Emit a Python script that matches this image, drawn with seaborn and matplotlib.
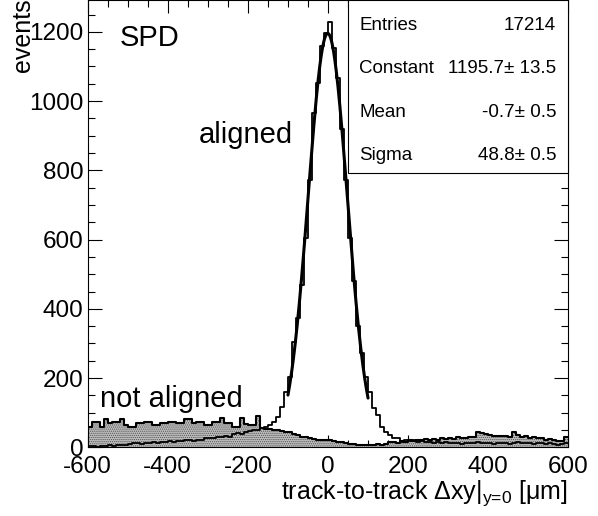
import numpy as np
import pandas as pd
import matplotlib
matplotlib.use("Agg")
import matplotlib.pyplot as plt
import seaborn as sns
from matplotlib.patches import Rectangle
from matplotlib.ticker import MultipleLocator

# 10 um bins from -600 to 600
edges = list(range(-600, 601, 10))
centers = [e + 5 for e in edges[:-1]]

# events per bin, aligned detector (open histogram)
aligned = [
    3, 4, 2, 5, 4, 6, 5, 7, 6, 8, 9, 11, 12, 10, 13,
    12, 14, 13, 16, 15, 17, 16, 18, 17, 20, 21, 19, 22, 21, 26,
    28, 27, 31, 29, 32, 30, 38, 41, 39, 44, 47, 50, 49, 55, 60,
    63, 72, 88, 117, 160, 203, 305, 373, 469, 604, 773, 966, 1053, 1159, 1197,
    1229, 1154, 1067, 918, 773, 604, 480, 350, 272, 204, 160, 114, 93, 60, 45,
    35, 28, 27, 16, 22, 18, 20, 15, 17, 14, 16, 13, 15, 12, 14,
    11, 13, 12, 10, 13, 11, 12, 14, 11, 13, 12, 10, 12, 11, 13,
    10, 12, 14, 11, 13, 12, 10, 11, 13, 9, 11, 10, 8, 9, 12,
]

# events per bin, not aligned detector (filled histogram)
not_aligned = [
    60, 74, 74, 60, 81, 69, 74, 74, 81, 64, 58, 58, 69, 69, 74,
    74, 64, 64, 69, 69, 74, 74, 70, 69, 81, 81, 69, 74, 74, 64,
    64, 74, 74, 85, 70, 69, 60, 60, 85, 66, 64, 64, 90, 55, 52,
    52, 50, 50, 46, 45, 44, 37, 35, 30, 30, 26, 24, 22, 20, 21,
    20, 18, 16, 15, 12, 10, 9, 8, 8, 7, 8, 7, 9, 8, 10,
    14, 16, 12, 18, 16, 20, 18, 22, 20, 24, 21, 25, 22, 26, 24,
    27, 25, 30, 26, 28, 31, 29, 45, 40, 38, 36, 34, 33, 32, 34,
    30, 44, 36, 30, 32, 28, 29, 26, 27, 22, 24, 20, 18, 17, 30,
]

# gaussian fit result shown in the stats box
entries = 17214
fit_const, fit_const_err = 1195.7, 13.5
fit_mean, fit_mean_err = -0.7, 0.5
fit_sigma, fit_sigma_err = 48.8, 0.5
fit_range = (-100, 100)

df = pd.DataFrame({'dxy': centers, 'aligned': aligned, 'not_aligned': not_aligned})

sns.set_theme(style="ticks")
plt.rcParams['font.family'] = ['Liberation Sans', 'DejaVu Sans']
plt.rcParams['mathtext.fontset'] = 'custom'
plt.rcParams['mathtext.rm'] = 'Liberation Sans'
plt.rcParams['mathtext.it'] = 'Liberation Sans'
plt.rcParams['mathtext.sf'] = 'Liberation Sans'
plt.rcParams['axes.unicode_minus'] = False
plt.rcParams['text.color'] = 'black'
plt.rcParams['hatch.color'] = '#555555'
plt.rcParams['hatch.linewidth'] = 0.6

W, H = 598, 516
fig = plt.figure(figsize=(W / 100, H / 100), dpi=100)
ax = fig.add_axes([87.7 / W, 1 - 447.3 / H, (568.3 - 87.7) / W, 447.3 / H])

# not aligned: grey dotted fill + black outline
sns.histplot(data=df, x='dxy', weights='not_aligned', bins=edges, element='step', fill=True,
             facecolor='#bdbdbd', edgecolor='#555555', linewidth=0, alpha=1,
             hatch='........', ax=ax)
sns.histplot(data=df, x='dxy', weights='not_aligned', bins=edges, element='step', fill=False,
             color='black', linewidth=1.5, ax=ax)

# aligned: open histogram
sns.histplot(data=df, x='dxy', weights='aligned', bins=edges, element='step', fill=False,
             color='black', linewidth=1.3, ax=ax)

# gaussian fit
xfit = np.linspace(fit_range[0], fit_range[1], 401)
yfit = fit_const * np.exp(-0.5 * ((xfit - fit_mean) / fit_sigma) ** 2)
sns.lineplot(x=xfit, y=yfit, color='black', linewidth=2.2, ax=ax)

ax.set_xlim(-600, 600)
ax.set_ylim(0, 1292)
ax.set_xlabel('')
ax.set_ylabel('')
ax.set_xticks(range(-600, 601, 200))
ax.set_yticks(range(0, 1201, 200))
ax.xaxis.set_minor_locator(MultipleLocator(50))
ax.yaxis.set_minor_locator(MultipleLocator(50))
ax.tick_params(which='both', direction='in', top=True, right=True,
               color='black', width=0.8, labelsize=17.5, labelcolor='black')
ax.tick_params(axis='y', which='major', length=10, pad=3)
ax.tick_params(axis='y', which='minor', length=5)
ax.tick_params(axis='x', which='major', length=9, pad=6)
ax.tick_params(axis='x', which='minor', length=5)
for s in ax.spines.values():
    s.set_color('black')
    s.set_linewidth(0.8)

# annotations
ax.text(-519, 1158, 'SPD', fontsize=21, ha='left', va='baseline')
ax.text(-322, 880, 'aligned', fontsize=21, ha='left', va='baseline')
ax.text(-569, 116, 'not aligned', fontsize=21, ha='left', va='baseline')

# axis titles, ROOT style
fig.text(30 / W, 1 - 72 / H, 'events', fontsize=18, rotation=90,
         rotation_mode='anchor', ha='left', va='baseline')
fig.text(568.3 / W, 1 - 498.3 / H, r'track-to-track $\Delta$xy$|_{\text{y=0}}$ [$\mu$m]',
         fontsize=18, ha='right', va='baseline')

# stats box
bx0, bx1, by1 = 348.3, 568.3, 173.3
fig.add_artist(Rectangle((bx0 / W, 1 - by1 / H), (bx1 - bx0) / W, by1 / H,
                         transform=fig.transFigure, facecolor='white',
                         edgecolor='black', linewidth=0.8, zorder=5))
rows = [
    ('Entries', f'{entries}'),
    ('Constant', f'{fit_const}± {fit_const_err}'),
    ('Mean', f'{fit_mean}± {fit_mean_err}'),
    ('Sigma', f'{fit_sigma}± {fit_sigma_err}'),
]
for i, (name, val) in enumerate(rows):
    yb = 1 - (30 + 43.3 * i) / H
    fig.text(359.3 / W, yb, name, fontsize=13.5, ha='left', va='baseline', zorder=6)
    fig.text(556 / W, yb, val, fontsize=13.5, ha='right', va='baseline', zorder=6)

fig.savefig('out.png', dpi=100)
